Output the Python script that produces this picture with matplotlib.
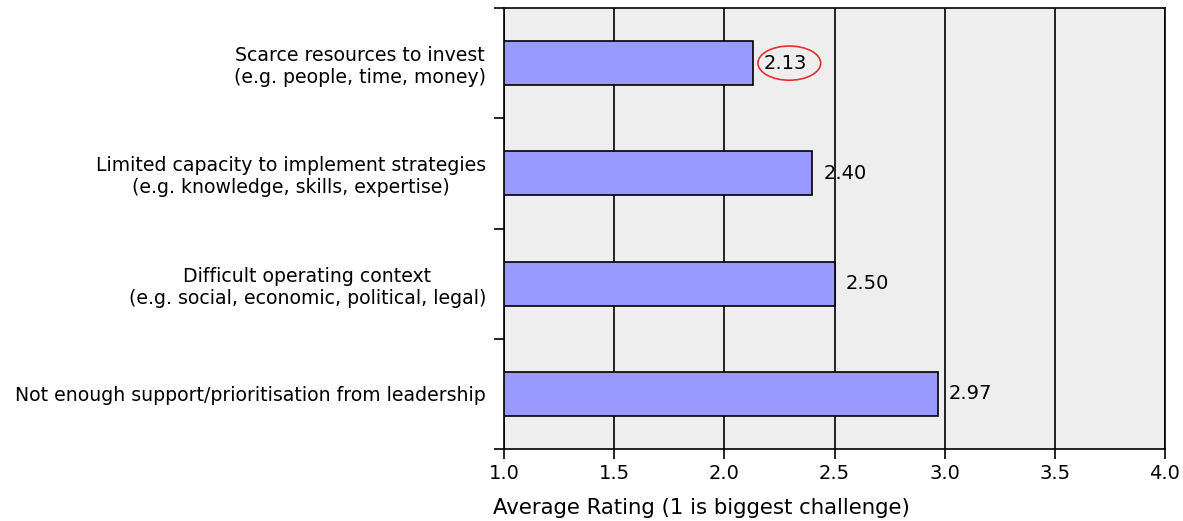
import matplotlib.pyplot as plt
from matplotlib.patches import Ellipse

plt.rcParams['font.family'] = ['DejaVu Sans']

challenges = [
    "Scarce resources to invest\n(e.g. people, time, money)",
    "Limited capacity to implement strategies\n(e.g. knowledge, skills, expertise)",
    "Difficult operating context\n(e.g. social, economic, political, legal)",
    "Not enough support/prioritisation from leadership",
]
ratings = [2.13, 2.40, 2.50, 2.97]
xticks = [1.0, 1.5, 2.0, 2.5, 3.0, 3.5, 4.0]

fig = plt.figure(figsize=(11.83, 5.21), dpi=100)
ax = fig.add_axes([504 / 1183, 1 - 449 / 521, 661 / 1183, 441 / 521])
ax.set_facecolor("#eeeeee")

pos = list(range(len(challenges)))
# bars start at 1.0 (axis minimum)
ax.barh(pos, [r - 1.0 for r in ratings], left=1.0, height=0.4,
        color="#9999ff", edgecolor="black", linewidth=1.2, zorder=3)

for p, r in zip(pos, ratings):
    ax.text(r + 0.05, p, "%.2f" % r, va="center", ha="left", fontsize=14, zorder=4)

# red circle around the top value
top = ratings[0]
ax.add_patch(Ellipse((top + 0.165, 0), 0.285, 0.31, fill=False,
                     edgecolor="#e8302a", linewidth=1.2, zorder=5))

ax.set_xlim(1.0, 4.0)
ax.set_ylim(3.5, -0.5)
ax.set_xticks(xticks)
ax.set_xticklabels(["%.1f" % t for t in xticks], fontsize=14)
ax.grid(axis="x", color="black", linewidth=1.2, zorder=1)

ax.set_yticks(pos)
ax.set_yticklabels(challenges, fontsize=13.6, multialignment="center")
ax.set_yticks([p - 0.5 for p in pos] + [3.5], minor=True)
ax.tick_params(axis="y", which="major", length=0, pad=13)
ax.tick_params(axis="y", which="minor", length=7, width=1.2)
ax.tick_params(axis="x", length=7, width=1.2, pad=4)

for s in ax.spines.values():
    s.set_linewidth(1.2)

fig.text(493 / 1183, 1 - 508 / 521, "Average Rating (1 is biggest challenge)",
         fontsize=15.3, ha="left", va="center")

fig.savefig("out.png", dpi=100)
